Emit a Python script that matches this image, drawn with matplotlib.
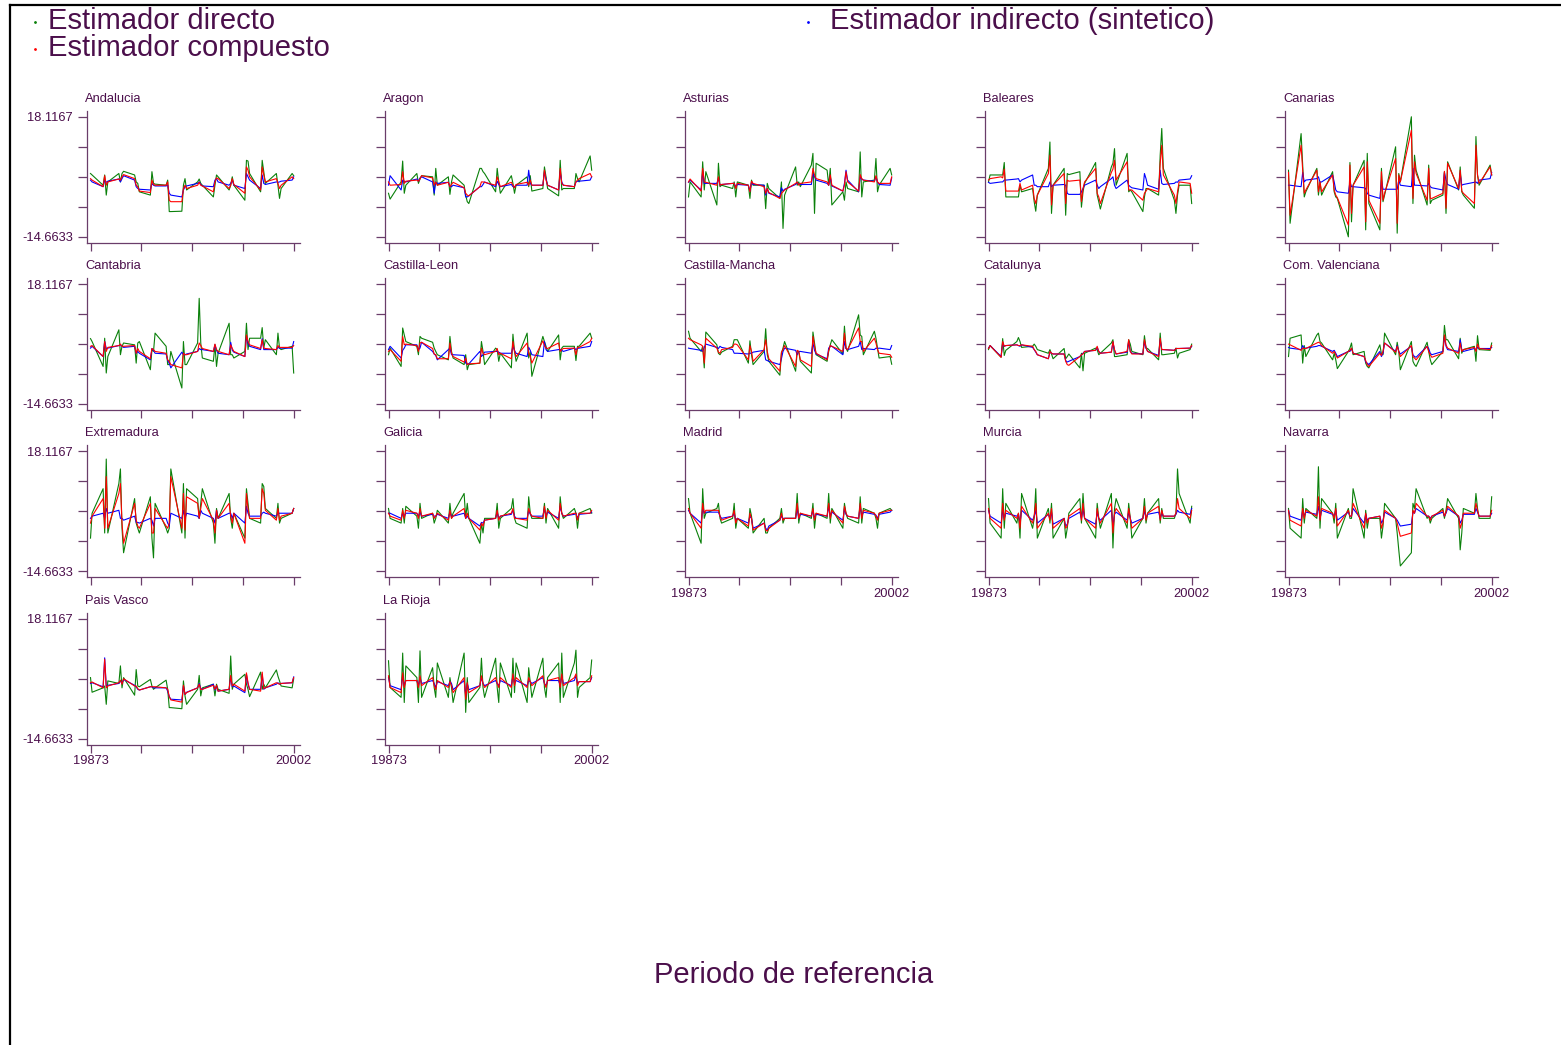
import numpy as np
import matplotlib
matplotlib.use("Agg")
import matplotlib.pyplot as plt
from matplotlib.lines import Line2D

plt.rcParams['font.family'] = ['Liberation Sans', 'DejaVu Sans']

# periodos trimestrales codificados como AAAAT (19873 = 1987 T3)
periodos = [a * 10 + t for a in range(1987, 2001) for t in range(1, 5)
            if 19873 <= a * 10 + t <= 20002]

regiones = ["Andalucia", "Aragon", "Asturias", "Baleares", "Canarias",
            "Cantabria", "Castilla-Leon", "Castilla-Mancha", "Catalunya",
            "Com. Valenciana", "Extremadura", "Galicia", "Madrid", "Murcia",
            "Navarra", "Pais Vasco", "La Rioja"]

# --- estimaciones por comunidad (directo / compuesto / indirecto) ---
dir_andalucia = [2.6, 2.2, -0.6, 2.2, -3.3, 0.3, 2.6, 0.3, 2.6, 3.2, 2.2, 0.3, -0.1, -2.4, -3.3, 3.1, -0.1, -0.3, -0.6, 0.8, -7.8, -7.8, -7.7, -0.6, 1.2, -1.9, 0.3, 1.1, -0.1, -0.6, -3.8, -0.6, 2.2, 1.7, -1.9, -0.6, 1.7, -0.6, -4.7, 6.2, 6.0, 2.6, -2.4, 6.2, 3.1, -0.1, 2.6, -0.6, -4.2, -1.5, 2.6, 2.0]
com_andalucia = [1.2, 0.8, -1.0, 2.0, -0.6, 0.3, 1.1, 0.8, 1.7, 2.3, 1.2, -0.6, -1.0, -2.2, -2.6, 0.8, -0.4, -0.6, -0.6, 0.3, -4.7, -5.1, -5.1, -1.5, -0.6, -1.5, -0.6, 0.2, -0.6, -0.8, -2.4, 0.3, 1.4, 1.2, -1.5, -0.6, 1.2, -0.4, -2.8, 4.4, 3.5, 1.7, -1.9, 4.4, 2.2, 0.3, 1.2, -0.1, -1.5, -0.6, 1.7, 1.2]
ind_andalucia = [0.8, 0.3, -1.0, 0.8, 0.2, 0.5, 1.1, 0.3, 1.2, 2.0, 0.8, -1.0, -1.5, -1.7, -1.9, -0.1, -0.6, -0.8, -0.8, -0.6, -2.8, -3.3, -3.8, -1.9, -1.0, -0.8, -0.1, 0.3, -0.4, -0.8, -1.0, 0.8, 1.2, 0.3, -0.6, -0.1, 0.8, -0.6, -1.5, 2.6, 1.7, 0.8, -1.5, 2.2, -0.1, -0.4, 0.3, 0.2, 0.3, 0.5, 0.8, 1.7]

dir_aragon = [-2.8, -4.4, 0.3, 6.0, -2.8, -0.6, 2.6, -0.1, 1.1, 2.0, 1.7, -3.3, 4.0, -0.6, 1.7, -3.1, 0.3, 2.2, -0.6, -3.3, -5.1, -5.6, 4.0, 4.0, 3.1, 2.6, -2.4, 4.0, 0.3, -2.8, 2.0, -0.1, -2.8, -0.6, 1.7, -1.0, 2.0, -2.2, -1.5, 4.4, 1.7, -1.5, -3.5, 6.2, -1.9, -1.5, -1.5, 2.6, 1.2, 0.3, 7.4, 3.5]
com_aragon = [0.3, -0.6, -0.4, 3.1, -0.1, 0.5, 0.8, 0.5, 1.1, 2.0, 1.4, -0.6, 0.3, -0.6, 0.2, -1.0, -0.4, 0.2, -1.3, -2.8, -3.3, -3.5, -1.0, 0.3, 0.3, 0.2, -0.6, 1.7, 0.3, -1.0, 0.2, -0.6, -1.3, -0.4, 0.2, -0.6, 0.8, -0.6, -0.6, 3.5, 0.8, -0.6, -1.9, 4.0, -0.1, -0.6, -1.0, 0.3, 0.8, 1.2, 2.6, 1.7]
ind_aragon = [-0.6, 2.0, -1.9, 0.8, 0.5, 0.3, 1.1, 0.5, 1.4, 1.7, 0.3, -2.8, 0.3, -0.1, 0.2, -1.0, -1.0, -0.6, -1.3, -3.8, -3.8, -3.5, -1.0, -1.0, -0.4, 0.3, -1.0, 0.5, -0.4, -1.0, -0.4, -1.0, -1.0, -0.6, -0.6, 3.5, -0.1, -0.6, -0.6, 3.1, 1.2, -0.6, -1.9, 3.1, 0.3, -0.6, -1.0, 0.3, 0.5, 0.5, 0.8, 1.7]

dir_asturias = [-3.8, 0.3, -3.8, 5.8, -1.9, 3.1, -6.0, 5.4, -1.0, -0.6, -1.5, 0.3, -3.8, 0.3, -0.6, -4.2, 0.8, -0.6, -0.6, -7.0, -0.1, -1.5, -4.2, 0.3, -12.4, -3.3, 4.4, -0.6, 0.3, -1.0, 4.9, 8.1, -8.3, 5.4, 3.5, -0.6, 4.0, -6.0, -2.4, -4.7, 0.3, -1.5, -2.4, 8.5, -3.8, 0.3, 0.8, 6.7, -2.4, -0.6, 4.0, 2.2]
com_asturias = [0.3, 1.1, -2.2, 4.0, 0.3, 0.2, -0.6, 1.7, -0.6, -0.4, -0.1, -0.1, -1.5, -0.1, -0.6, -2.4, 0.5, -0.1, -1.0, -2.8, -1.5, -2.6, -4.2, -2.8, -2.4, -1.9, -0.1, 0.3, -0.6, -0.1, 0.3, 4.0, 2.2, 1.2, 0.3, -0.6, 2.2, -0.6, -2.2, -0.6, 3.1, 0.3, -2.2, 2.3, 1.2, 0.8, 0.3, 2.0, 0.3, -0.1, -0.1, 1.7]
ind_asturias = [0.2, 0.8, -1.9, 3.1, -0.1, -0.1, -0.1, 1.2, -0.6, -0.4, -0.1, -0.1, -1.0, -0.4, -0.6, -2.2, 0.2, -0.4, -0.6, -3.3, -1.5, -2.8, -3.8, -1.3, -2.2, -1.7, -0.4, 0.2, -0.4, -0.4, -0.4, 2.6, 1.7, 0.8, -0.1, -0.6, 1.7, -0.8, -2.2, -0.1, 3.5, 0.8, -2.4, 1.7, 1.1, 0.8, 0.5, 1.7, 0.3, -0.4, -0.6, 1.4]

dir_baleares = [0.3, 2.2, 2.2, 2.2, 5.6, -3.8, -3.8, -3.8, -0.6, -2.4, -1.5, -5.1, -7.7, -3.3, 4.0, 11.2, -8.3, -0.6, 4.0, -8.8, 2.6, 2.3, 3.1, -6.6, -2.4, -0.1, 5.6, -3.3, -5.1, -7.1, 4.4, 5.4, 9.4, -0.6, 8.1, -2.4, -1.9, -2.4, -7.8, -3.8, -1.5, -1.5, -3.3, 7.6, 14.9, 4.0, -4.7, -8.3, -3.3, -0.6, -0.6, -5.6]
com_baleares = [0.8, 1.2, 1.7, 1.4, 3.8, -2.2, -2.2, -2.2, -0.1, -1.9, -0.6, -4.2, -5.6, -3.3, 2.6, 7.6, -6.0, -0.6, 2.6, -5.6, 0.8, 0.5, 0.8, -5.1, -1.5, 0.3, 4.0, -2.8, -3.8, -5.6, 2.9, 3.8, 6.2, 0.8, 5.8, -1.9, -1.9, -1.9, -4.7, -2.8, -2.2, -1.5, -2.4, 5.4, 10.3, 2.2, -3.3, -5.6, -2.4, 0.3, -0.1, -2.8]
ind_baleares = [0.2, -0.1, 0.3, 0.3, 0.8, 0.8, 1.1, 1.2, 0.3, 0.8, 2.2, -0.6, -0.6, -1.0, -1.0, 0.3, -1.0, -0.6, -0.4, -0.6, -2.8, -3.1, -3.1, -2.4, -1.5, -0.6, 0.8, -0.6, -1.5, -1.0, 1.2, 1.7, -0.6, -1.5, 0.8, -0.6, -1.0, -1.3, -1.9, 2.6, 1.2, -0.6, -1.7, 3.5, -0.1, -0.4, -0.1, 0.3, 0.2, 0.8, 1.1, 2.0]

dir_canarias = [3.5, -11.0, 13.5, 4.9, -3.8, -2.4, 4.0, -3.3, 0.3, -3.3, 3.1, -2.4, -3.8, -4.2, -14.7, 5.6, -10.6, -0.6, 6.2, -12.8, 8.1, -5.6, -12.8, 4.0, -5.1, -3.3, 9.9, -13.7, 2.6, 0.3, 18.1, -5.6, 7.6, 3.5, -6.0, 4.9, -5.6, -4.7, -3.3, 3.1, -8.3, 5.8, -1.9, 4.4, -2.4, -3.3, -6.9, 12.7, 2.2, -0.6, 4.9, 2.2]
com_canarias = [2.9, -8.8, 10.3, 3.5, -2.8, -1.9, 3.5, -2.4, 0.3, -2.4, 2.2, -1.9, -3.3, -4.0, -11.5, 4.9, -8.3, -0.6, 4.4, -10.6, 5.8, -4.7, -11.0, 3.1, -4.7, -2.8, 6.7, -11.0, 2.2, 0.3, 14.4, -4.2, 5.8, 2.6, -4.7, 4.0, -4.2, -4.2, -2.8, 3.2, -6.9, 5.4, -1.5, 3.5, -2.2, -2.8, -5.6, 10.3, 2.2, -0.1, 4.4, 2.2]
ind_canarias = [-0.6, -0.6, -1.0, 2.9, 0.3, 0.8, 1.2, 1.7, 0.2, 0.3, 2.2, 0.3, -1.9, -2.4, -2.8, 0.3, -1.0, -1.0, -1.3, -1.5, -2.8, -3.3, -4.2, 0.8, -1.7, -1.7, -1.7, -1.7, 0.8, -0.6, -1.0, 4.0, -0.6, -0.6, -0.8, -0.1, -1.0, -1.3, -1.9, 2.9, 0.8, -0.4, -1.7, 2.6, -0.6, -0.4, 0.2, 0.3, -0.1, 0.8, 1.2, 2.9]

dir_cantabria = [3.2, 2.4, -4.4, 3.3, -6.2, -1.7, 5.6, -1.2, 1.1, 2.0, 1.5, -3.5, 2.0, 2.4, -5.3, 0.2, -0.3, 4.7, 1.1, -3.9, -3.9, -0.3, -10.3, 2.4, -3.9, -3.9, 2.0, 14.2, 2.0, -2.1, -3.0, 1.5, -4.4, -0.8, 7.4, -1.2, -1.2, -2.1, -0.3, 7.4, 0.2, 3.3, 3.3, 6.2, 0.6, 2.9, -1.2, 4.7, 0.6, 0.2, 1.1, -6.2]
com_cantabria = [1.1, 1.3, -1.7, 2.4, -0.3, 0.8, 1.3, 1.7, 1.1, 1.1, 1.3, -0.8, 0.5, -0.3, -2.3, 0.5, 0.2, -0.3, -0.8, -2.6, -3.0, -3.9, -4.8, -0.8, -1.2, -1.2, -0.3, 2.0, 1.3, 0.5, -0.3, 1.7, 0.2, -0.3, -1.2, 1.5, 0.5, -0.3, -1.7, 4.2, 2.4, 1.5, 0.5, 2.9, 0.6, 0.5, 0.2, 1.3, 0.8, 0.8, 0.8, 1.3]
ind_cantabria = [0.6, 1.1, -1.7, 2.4, 0.5, 0.6, 1.3, 1.5, 1.1, 0.8, 1.1, -0.8, -0.3, -0.8, -2.6, 0.5, 0.0, -0.8, -1.0, -2.8, -3.5, -4.8, -0.5, -1.2, -1.2, -1.0, -0.3, 0.5, 0.2, 0.2, -0.3, 1.5, 0.0, -0.8, -1.2, 2.2, 0.0, -0.5, -1.7, 3.8, 2.0, 1.1, 0.2, 3.2, 0.2, 0.2, 0.2, 0.8, 0.6, 0.6, 0.6, 2.4]

dir_cleon = [-1.2, 0.6, -4.4, 6.1, 4.2, 2.4, 1.1, -1.2, 3.8, 3.3, 2.2, 0.6, -0.3, -1.2, -2.6, 3.8, -0.3, -2.1, -3.9, -1.2, -5.3, -3.9, -3.5, 2.4, -0.3, -3.9, 0.6, 0.2, -3.0, -0.8, -4.8, 4.4, -0.3, -3.0, 4.7, -2.1, -0.3, -7.1, 3.8, 2.4, 1.1, -0.3, 4.2, -2.6, 0.6, 1.1, 1.1, -2.8, 1.1, 1.1, 4.7, 3.3]
com_cleon = [-0.3, 0.2, -3.0, 3.8, 1.5, 1.7, 1.3, -0.3, 2.0, 2.2, 0.5, -1.0, -1.2, -2.3, -2.3, 2.0, -0.8, -1.7, -3.2, -2.1, -3.9, -3.7, -3.5, 0.6, -0.8, -1.2, -0.3, 0.5, -1.2, -0.8, -2.3, 2.4, -0.3, -1.7, 2.0, -0.8, -1.7, -3.5, 2.6, 1.3, 0.6, 0.5, 2.0, -0.3, 0.2, 0.5, 0.6, -1.2, 0.8, 0.8, 2.4, 3.3]
ind_cleon = [0.2, 1.1, -2.1, 0.0, 0.6, 1.5, 1.5, 0.2, 0.6, 2.2, -0.3, -1.0, -1.4, -2.6, 0.2, 0.6, -1.2, -1.2, -1.4, -3.5, -3.7, -3.7, -0.3, -1.7, -1.2, -0.5, -0.3, -0.3, -0.5, -0.8, -0.8, 1.1, 0.0, -0.8, -1.7, 0.8, 0.0, -1.2, -1.7, 2.4, 0.2, -0.3, 0.2, 0.2, 0.0, -0.3, 0.6, 0.2, 0.5, 0.6, 1.1, 2.4]

dir_cmancha = [5.2, 3.3, -0.3, 1.1, -4.8, 5.0, 1.5, -0.8, -1.2, -0.5, 1.1, 2.9, 2.9, 2.9, -3.5, 2.6, -1.2, -3.9, -0.3, 5.9, -1.2, -3.0, -6.8, -0.8, 0.6, 2.4, -5.7, -0.3, -0.3, -3.0, -6.2, 5.0, 2.0, -1.2, -3.0, -0.3, 1.5, 2.9, -1.0, 6.6, 0.6, -0.3, 9.7, 4.2, 3.8, -1.2, 5.2, 3.3, 0.6, -2.1, -1.7, -3.8]
com_cmancha = [3.3, 2.9, 1.5, 1.1, -3.5, 3.3, 0.6, -0.5, -0.8, 0.2, 0.8, 1.7, 1.7, 1.5, -2.6, 1.3, -0.3, -3.0, 0.2, 2.9, -0.3, -2.3, -5.7, -0.5, 0.2, 1.3, -4.4, 0.0, -0.3, -2.6, -4.4, 3.8, 1.1, -0.8, -2.6, 0.0, 1.3, 1.1, -0.3, 4.7, 0.5, 0.2, 6.1, 2.4, 2.4, -0.3, 3.3, 2.0, 0.2, -0.8, -1.2, -1.9]
ind_cmancha = [0.6, 0.5, 0.0, -0.3, 0.8, 1.7, 0.8, 0.5, 1.1, 0.8, 0.2, -0.8, -0.8, -0.8, -1.0, -0.8, -0.8, -0.5, 0.0, -2.6, -2.8, -3.0, -3.9, -2.3, -0.3, 0.6, 0.0, -1.2, -0.3, -0.3, -0.8, 2.0, 0.0, -1.0, -2.3, 0.6, 1.1, 1.1, -1.2, 2.4, 0.5, 0.2, 1.1, 2.4, 0.2, 0.5, 0.2, 0.6, 0.5, 0.6, 0.2, 1.3]

dir_catalunya = [0.2, 1.3, -1.9, 3.2, -1.4, 0.0, 2.4, 3.5, 2.4, 0.8, 1.1, 1.7, 1.1, 0.2, -0.8, 0.2, -1.0, -2.3, 0.5, -2.3, -1.7, -1.0, -4.8, -0.8, -5.6, -0.8, 0.6, 0.2, -1.2, -0.8, 2.0, 2.9, -1.7, -1.7, -1.2, 2.9, 1.7, -0.3, -1.2, 4.0, 0.6, 0.5, -2.6, 4.7, -1.2, -1.2, -0.8, 0.6, -2.1, -0.8, 0.2, 1.7]
com_catalunya = [0.5, 1.3, -1.9, 2.4, 1.1, 1.3, 1.5, 1.3, 1.3, 1.5, 1.1, 0.2, -0.3, -1.2, -2.3, -0.3, -0.8, -1.0, -1.0, -3.0, -3.9, -4.1, -1.7, -1.2, -1.0, -0.3, 0.0, 1.1, -0.3, -0.8, -0.5, 2.4, 0.2, -1.0, -0.3, 2.9, -0.3, -1.0, -1.0, 2.9, 0.8, -0.3, -1.7, 3.3, 0.2, 0.2, 0.0, 0.5, 0.5, 0.5, 0.6, 1.3]
ind_catalunya = [0.6, 1.3, -1.7, 2.0, 1.1, 1.3, 1.5, 1.3, 1.1, 1.5, 0.8, 0.2, -0.5, -1.2, -2.3, -0.5, -0.8, -1.0, -1.0, -2.8, -3.2, -3.0, -1.7, -1.2, -0.8, -0.3, 0.0, 0.8, -0.3, -0.8, -0.5, 2.2, 0.0, -1.0, -0.5, 2.4, -0.3, -0.8, -1.0, 2.4, 0.6, -0.3, -1.4, 2.9, 0.2, 0.2, 0.0, 0.5, 0.5, 0.5, 0.6, 1.1]

dir_valenciana = [-1.7, 3.3, 4.2, -3.5, 1.3, -1.7, 4.2, 4.7, 2.4, 2.0, -2.6, -0.8, -2.6, -5.0, -0.3, 0.6, 2.0, -1.2, -0.3, -3.5, -4.4, -4.8, 1.5, -1.0, -1.2, 4.7, -1.2, 2.2, -0.3, -5.3, 2.4, -3.0, -3.9, -4.4, 2.2, -0.3, -2.6, -3.9, -0.3, 6.8, 2.9, 2.9, -2.3, 3.3, -0.8, 0.2, 1.1, -3.0, 4.0, 0.2, 0.0, 2.0]
com_valenciana = [1.7, 1.5, 0.0, 0.6, 0.5, 0.5, 2.0, 2.2, 2.0, 1.3, -0.8, -0.3, -1.2, -2.1, -0.3, 0.0, 0.6, -0.8, -1.7, -2.8, -3.9, -4.4, -0.8, -1.4, -0.3, 2.0, -0.5, 1.1, -0.3, -1.7, 1.3, -1.7, -2.1, -2.6, 1.1, -0.3, -1.2, -1.9, -0.8, 4.2, 1.5, 0.6, -0.8, 2.0, -0.3, 0.2, 0.8, -0.3, 1.7, 0.5, 0.2, 1.3]
ind_valenciana = [0.8, 0.6, 0.2, 1.3, 0.5, 0.6, 1.1, 1.3, 1.3, 1.1, -0.3, 0.0, -0.8, -1.7, -0.3, -0.3, 0.5, -0.8, -1.7, -3.2, -3.5, -3.9, -0.3, -1.7, -0.8, 2.0, -0.3, 1.3, -0.3, -1.0, 1.1, -1.2, -1.7, -1.9, 1.1, 0.5, -0.8, -1.2, -0.3, 3.8, 1.1, 0.2, -0.3, 2.9, 0.2, -0.3, 0.5, 0.2, 0.8, 0.5, 0.5, 0.8]

dir_extremadura = [-5.6, 1.2, 7.9, -4.2, 16.0, -4.2, 9.3, 13.3, -2.9, -9.6, 5.2, -1.5, -2.9, -4.2, 5.7, -5.6, -11.0, 3.9, -2.9, -4.2, -2.9, 13.3, -4.2, 9.3, -5.6, 7.9, 5.2, -0.2, 3.9, 7.9, -1.5, -7.0, 2.5, -0.2, 6.6, -0.2, -2.9, 1.2, -5.6, 7.9, 3.9, -0.2, -1.5, 9.3, 8.5, 2.5, -0.2, 3.9, -1.5, -0.2, 1.2, 2.5]
com_extremadura = [-1.5, 0.4, 5.2, -2.9, 11.2, -2.9, 6.6, 9.3, -1.5, -7.0, 3.9, -0.7, -2.3, -2.9, 3.9, -4.2, -4.2, 2.5, -2.3, -2.9, -1.5, 11.2, -2.9, 6.6, -3.4, 5.7, 3.9, -0.2, 2.5, 5.2, -0.7, -4.2, 2.0, -0.2, 3.9, 0.4, -1.5, 1.2, -7.0, 6.6, 2.5, -0.2, -0.2, 7.9, 6.6, 2.0, -0.7, 2.5, -0.7, 0.4, 1.2, 2.5]
ind_extremadura = [-0.2, 0.4, 1.2, -0.2, 2.5, 1.2, 2.0, -0.2, -0.2, -0.7, 0.4, -1.3, -1.3, -1.5, -0.2, -0.7, -2.3, -0.2, -0.2, -1.5, -2.3, 1.2, -0.2, 2.0, -0.2, 1.2, 0.4, -0.2, 2.0, 1.2, -0.2, -1.5, 2.0, -0.2, 1.2, 1.2, -0.2, 1.2, -1.5, 3.1, 1.2, 0.4, 0.4, 1.2, 1.5, 1.2, 0.4, 1.2, 1.2, 1.2, 1.2, 2.5]

dir_galicia = [2.5, -0.2, -1.5, 2.5, -1.5, 3.1, 0.4, -2.9, 3.9, -0.2, 1.2, -1.5, -0.2, 2.0, -1.5, 3.9, -0.2, 1.2, 6.6, -0.2, 3.9, -0.2, -7.0, -1.5, -4.2, -0.2, -0.2, 3.9, -2.9, -0.2, 2.5, 5.2, -0.2, -1.5, -2.9, 5.7, 1.2, -0.2, -0.2, 3.9, -1.5, 2.5, -2.9, 5.7, 1.2, -0.2, 2.5, 1.2, -2.9, 1.2, 2.5, 1.2]
com_galicia = [1.2, 0.4, -0.7, 2.0, -0.2, 2.0, 1.2, -0.2, 2.5, 0.4, 1.2, -0.2, 0.4, 1.2, -0.7, 2.0, -0.2, 0.4, 2.5, -0.2, 1.2, -0.2, -3.4, -1.5, -2.3, -0.7, -0.2, 2.0, -0.7, 0.4, 1.2, 2.5, -0.2, -0.2, -0.7, 2.5, 1.2, 0.4, -0.2, 3.1, -0.2, 2.0, -0.7, 3.9, 1.2, 0.4, 1.2, 1.2, -0.7, 1.2, 1.2, 2.0]
ind_galicia = [1.2, 1.2, -0.2, 1.2, 0.4, 1.2, 1.2, 0.4, 1.5, 0.4, 0.9, 0.4, 0.4, 0.9, -0.2, 1.5, 0.4, 0.4, 1.2, -0.2, 0.4, -0.2, -2.3, -1.3, -1.5, -0.7, -0.2, 1.5, -0.2, 0.4, 0.9, 2.0, 0.4, -0.2, -0.2, 2.0, 0.9, 0.4, 0.4, 2.5, 0.4, 1.5, -0.2, 3.1, 1.2, 0.4, 0.9, 1.2, -0.2, 0.9, 1.2, 1.5]

dir_madrid = [5.2, 1.2, -7.0, 7.9, -0.2, 1.2, 2.5, 3.9, -0.2, -1.5, -0.2, 3.9, -2.9, -0.2, -2.9, 2.5, 0.4, -4.2, -0.2, -4.2, -4.2, -2.9, -0.2, 2.5, -1.5, -0.2, -0.2, 6.6, -1.5, 1.2, -0.2, 3.9, -2.9, 1.2, -0.2, 6.6, -1.5, 2.5, -2.9, 3.9, 1.2, -0.2, -1.5, 5.7, -1.5, 2.5, 1.2, -0.2, -2.9, 1.2, 2.5, 2.0]
com_madrid = [2.5, 1.2, -2.9, 3.9, 1.2, 2.0, 2.0, 2.0, 0.4, -0.7, 0.4, 2.0, -1.5, -0.2, -2.3, 1.2, -0.2, -3.4, -1.5, -3.4, -3.7, -2.9, -0.7, 1.2, -0.7, -0.2, -0.2, 3.9, -0.2, 1.2, 0.4, 2.5, -0.7, 1.2, 0.4, 3.9, -0.2, 2.0, -1.5, 3.1, 1.2, 0.4, -0.2, 3.9, -0.2, 2.0, 1.2, 0.4, -0.7, 1.2, 2.0, 2.0]
ind_madrid = [2.0, 1.2, -1.5, 2.5, 1.2, 1.5, 1.5, 1.5, 0.4, -0.2, 0.4, 1.2, -0.7, -0.2, -1.5, 0.4, -0.2, -2.9, -1.5, -2.9, -3.4, -2.3, -0.7, 0.4, -0.2, -0.2, -0.2, 2.5, -0.2, 0.9, 0.4, 2.0, -0.2, 0.9, 0.4, 3.1, 0.4, 1.5, -0.7, 2.5, 0.9, 0.4, -0.2, 3.1, 0.4, 1.5, 0.9, 0.7, -0.2, 0.9, 1.5, 2.0]

dir_murcia = [5.2, -1.5, -5.6, 7.9, -2.9, 3.9, -1.5, 1.2, -5.6, 6.6, -2.9, -0.2, 7.9, -5.6, 2.5, -1.5, 3.9, -5.6, -0.2, -5.6, -2.9, 1.2, 5.2, -1.5, 6.6, -0.2, -5.6, 3.9, -0.2, -2.9, 6.6, -8.3, 2.5, 5.2, -2.9, 3.9, -0.2, -5.6, -0.2, 5.2, -1.5, 1.2, 5.2, -1.5, 2.5, -0.2, -0.2, 1.2, 13.3, 6.6, -1.5, 3.1]
com_murcia = [2.5, -0.2, -2.9, 3.9, -0.7, 2.0, -0.2, 1.2, -2.9, 3.1, -1.5, 0.4, 3.9, -2.9, 1.2, -0.7, 2.5, -2.9, -0.2, -2.9, -2.3, 0.4, 2.5, -0.7, 3.9, -0.2, -2.9, 2.5, -0.2, -1.5, 3.9, -4.2, 1.2, 2.5, -1.5, 2.5, -0.2, -2.9, -0.2, 3.1, -0.7, 1.2, 3.1, -0.7, 2.0, 0.4, 0.4, 1.2, 5.2, 2.5, -0.2, 2.0]
ind_murcia = [2.0, 0.4, -1.5, 2.0, -0.2, 1.2, 0.4, 0.9, -1.5, 2.0, -0.7, 0.4, 2.0, -1.5, 0.9, -0.2, 1.5, -1.8, -0.2, -2.3, -1.8, -0.2, 1.5, -0.2, 2.5, -0.2, -1.8, 1.5, -0.2, -0.7, 2.0, -2.3, 0.9, 1.5, -0.7, 1.5, -0.2, -1.5, -0.2, 2.0, -0.2, 0.9, 1.5, -0.2, 1.2, 0.4, 0.4, 0.9, 2.0, 1.5, 0.9, 2.5]

dir_navarra = [2.5, -2.9, -5.6, 5.2, -1.5, 2.5, -0.2, 13.9, -2.9, 5.2, 1.2, -1.5, 3.9, -5.6, 2.5, -0.2, -0.2, 7.9, -5.6, 2.0, -2.9, -0.2, -0.2, -5.6, -2.3, 3.9, -0.2, -4.2, -8.8, -13.2, -9.6, 3.9, 2.5, 7.9, -0.2, 0.4, -1.5, -0.2, 2.5, -0.2, 2.0, 5.2, -0.2, -8.8, -4.2, 2.5, 1.2, 6.6, 2.5, -0.2, -0.2, 5.7]
com_navarra = [2.0, -0.7, -2.3, 2.5, -0.2, 2.0, 0.4, 5.7, -0.7, 2.5, 1.2, -0.2, 2.5, -2.3, 2.0, 0.4, 0.4, 3.9, -2.9, 1.2, -1.5, -0.2, 0.4, -2.9, -1.5, 2.0, -0.2, -1.5, -3.4, -5.1, -4.2, 2.0, 1.2, 3.9, 0.4, 0.4, -0.7, 0.4, 2.0, 0.4, 1.5, 3.1, 0.4, -2.9, -1.5, 1.2, 1.2, 3.9, 2.0, 0.4, 0.4, 2.0]
ind_navarra = [2.0, 0.4, -0.7, 2.0, 0.4, 1.5, 0.9, 3.1, -0.2, 2.0, 0.9, 0.4, 2.0, -0.7, 1.5, 0.4, 0.4, 2.5, -1.5, 0.9, -0.7, -0.2, 0.4, -1.5, -0.7, 1.5, -0.2, -0.7, -1.5, -2.3, -1.8, 1.5, 1.2, 2.5, 0.4, 0.4, -0.2, 0.4, 1.5, 0.4, 1.2, 2.5, 0.4, -1.5, -0.7, 0.9, 0.9, 2.5, 1.5, 0.4, 0.4, 1.2]

dir_paisvasco = [2.0, -2.0, -0.8, -0.3, -5.3, 1.1, 0.4, 5.2, -0.8, 2.0, -2.8, 4.2, -0.3, -0.5, 1.5, -0.3, -1.2, -0.8, 1.3, -1.2, -6.2, -6.2, -6.5, 1.1, -3.0, -5.3, -1.2, 2.6, -3.0, -0.8, 0.2, -3.0, 0.2, -1.2, -2.3, 7.9, -1.2, 0.2, 2.9, 0.2, -1.2, -3.2, 3.5, -1.2, 0.2, -0.8, 4.1, 2.4, 1.1, -0.3, -0.8, 1.7]
com_paisvasco = [0.6, 0.8, -0.8, 7.0, -0.8, -0.3, 0.6, 1.3, 0.2, 1.7, -0.3, -0.3, -1.0, -1.4, -0.5, -0.5, -0.5, -0.5, -0.8, -1.2, -3.2, -4.1, -4.7, -0.1, -2.6, -2.1, -0.8, 0.2, -1.2, -1.2, -0.1, -1.2, -0.1, -1.7, -1.2, 2.6, -0.3, 0.2, -1.7, 3.3, 0.6, -1.2, -1.7, 3.5, -1.0, -0.8, 0.6, 0.4, 0.2, 0.4, 0.6, 2.0]
ind_paisvasco = [0.4, 0.6, -0.5, 7.4, -0.3, -0.1, 0.4, 1.1, 0.4, 1.5, -0.1, -0.5, -1.2, -1.4, -0.5, -0.5, -0.8, -0.8, -0.8, -1.7, -3.2, -3.9, -4.1, -0.3, -2.6, -2.0, -0.8, 0.4, -1.0, -1.2, 0.2, -1.4, -0.3, -1.7, -1.2, 2.2, -0.5, -0.3, -2.1, 2.9, 0.2, -1.2, -1.2, 2.9, -1.2, -0.8, 0.2, 0.6, 0.2, 0.4, 0.6, 2.2]

dir_rioja = [6.6, -0.7, -3.4, 8.7, -4.8, 5.2, 2.0, -4.8, 9.3, -3.4, 4.7, -0.7, -3.4, 6.0, -3.4, 2.0, -0.7, -4.8, 8.7, -7.5, 2.0, -4.8, -0.7, 7.3, -0.7, -3.4, 7.3, -0.7, -4.8, 6.0, -3.4, 7.3, -2.1, 6.0, -4.8, 4.7, 0.6, -3.4, 7.3, -0.7, -3.4, 2.0, 6.0, -4.8, 8.7, -3.4, 6.0, 9.5, -3.4, -0.7, 2.0, 6.8]
com_rioja = [2.5, -0.7, -2.1, 3.3, -0.7, 1.2, 1.2, -0.7, 2.5, -0.2, 2.0, -0.2, -1.3, 1.2, -0.7, 0.9, -0.2, -2.1, 2.0, -3.9, 0.6, -2.1, -0.2, 2.5, 0.4, -0.7, 2.0, 0.4, -0.7, 2.0, -0.7, 3.0, -0.2, 2.0, -0.7, 2.0, 0.9, -0.2, 2.5, 0.4, -0.7, 1.2, 2.0, -0.7, 3.0, -0.2, 2.0, 3.0, -0.2, 0.9, 0.9, 2.5]
ind_rioja = [2.0, -0.2, -1.3, 2.5, -0.2, 1.2, 1.2, -0.2, 2.0, 0.4, 1.2, 0.4, -0.7, 0.9, -0.2, 0.9, 0.4, -1.3, 1.2, -2.9, 0.4, -1.3, -0.2, 2.0, 0.4, -0.2, 1.2, 0.4, -0.2, 1.2, -0.2, 2.5, 0.4, 1.2, -0.2, 1.2, 0.9, 0.4, 2.0, 0.4, -0.2, 1.2, 1.2, -0.2, 2.5, 0.4, 1.2, 2.5, 0.4, 0.9, 0.9, 2.0]

directo = [dir_andalucia, dir_aragon, dir_asturias, dir_baleares, dir_canarias,
           dir_cantabria, dir_cleon, dir_cmancha, dir_catalunya, dir_valenciana,
           dir_extremadura, dir_galicia, dir_madrid, dir_murcia, dir_navarra,
           dir_paisvasco, dir_rioja]
compuesto = [com_andalucia, com_aragon, com_asturias, com_baleares, com_canarias,
             com_cantabria, com_cleon, com_cmancha, com_catalunya, com_valenciana,
             com_extremadura, com_galicia, com_madrid, com_murcia, com_navarra,
             com_paisvasco, com_rioja]
indirecto = [ind_andalucia, ind_aragon, ind_asturias, ind_baleares, ind_canarias,
             ind_cantabria, ind_cleon, ind_cmancha, ind_catalunya, ind_valenciana,
             ind_extremadura, ind_galicia, ind_madrid, ind_murcia, ind_navarra,
             ind_paisvasco, ind_rioja]

y_min, y_max = -14.6633, 18.1167
x_min, x_max = 19873, 20002

TXT = '#4b0f4b'
EJE = '#6a3d6a'
VERDE, ROJO, AZUL = '#0a800a', '#ff0000', '#0000ff'

W, H = 1561, 1045
fig = plt.figure(figsize=(W / 100, H / 100), dpi=100)


def px(x, y):
    return x / W, 1 - y / H


# marco exterior (izquierda y arriba)
fig.add_artist(Line2D([10 / W, 10 / W], [0, 1 - 5 / H], color='black', lw=1.6))
fig.add_artist(Line2D([10 / W, 1], [1 - 5 / H, 1 - 5 / H], color='black', lw=1.6))

# leyenda
leyenda = [("Estimador directo", VERDE, 35, 48, 29),
           ("Estimador compuesto", ROJO, 35, 48, 56),
           ("Estimador indirecto (sintetico)", AZUL, 808, 830, 29)]
for texto, color, xm, xt, yb in leyenda:
    fig.add_artist(Line2D([xm / W], [1 - (yb - 7) / H], marker='.', ms=2,
                          color=color, lw=0))
    fig.text(*px(xt, yb), texto, fontsize=21, color=TXT, va='baseline', ha='left')

col_left = [87, 385, 685, 985, 1285]
ax_w, ax_h = 213, 132
px_unit = 203 / (x_max - x_min)
py_unit = 120 / (y_max - y_min)

for i, nombre in enumerate(regiones):
    fila, col = divmod(i, 5)
    left = col_left[col]
    top = 110.7 + 167.3 * fila
    ax = fig.add_axes([left / W, 1 - (top + ax_h) / H, ax_w / W, ax_h / H])
    ax.patch.set_alpha(0)

    ax.plot(periodos, directo[i], color=VERDE, lw=0.8)
    ax.plot(periodos, indirecto[i], color=AZUL, lw=0.8)
    ax.plot(periodos, compuesto[i], color=ROJO, lw=0.8)

    ax.set_xlim(x_min - 3.5 / px_unit, x_max + 6.3 / px_unit)
    ax.set_ylim(y_min - 6 / py_unit, y_max + 6 / py_unit)

    for s in ['top', 'right']:
        ax.spines[s].set_visible(False)
    for s in ['left', 'bottom']:
        ax.spines[s].set_color(EJE)
        ax.spines[s].set_linewidth(0.9)

    ax.set_yticks(np.linspace(y_min, y_max, 5))
    ax.set_xticks(np.linspace(x_min, x_max, 5))
    if col == 0:
        ax.set_yticklabels(['-14.6633', '', '', '', '18.1167'])
    else:
        ax.set_yticklabels([])
    abajo = fila == 3 or (fila == 2 and col >= 2)
    if abajo:
        ax.set_xticklabels(['19873', '', '', '', '20002'])
    else:
        ax.set_xticklabels([])
    ax.tick_params(axis='y', direction='out', length=6.5, width=0.9,
                   color=EJE, labelsize=9.3, labelcolor=TXT, pad=3.5)
    ax.tick_params(axis='x', direction='out', length=6, width=0.9,
                   color=EJE, labelsize=9.3, labelcolor=TXT, pad=1.5)

    fig.text(*px(left - 2, top - 12), nombre, fontsize=9.3, color=TXT,
             ha='left', va='center')

fig.text(*px(794, 983), "Periodo de referencia", fontsize=21, color=TXT,
         ha='center', va='baseline')

fig.savefig('out.png', dpi=100)
